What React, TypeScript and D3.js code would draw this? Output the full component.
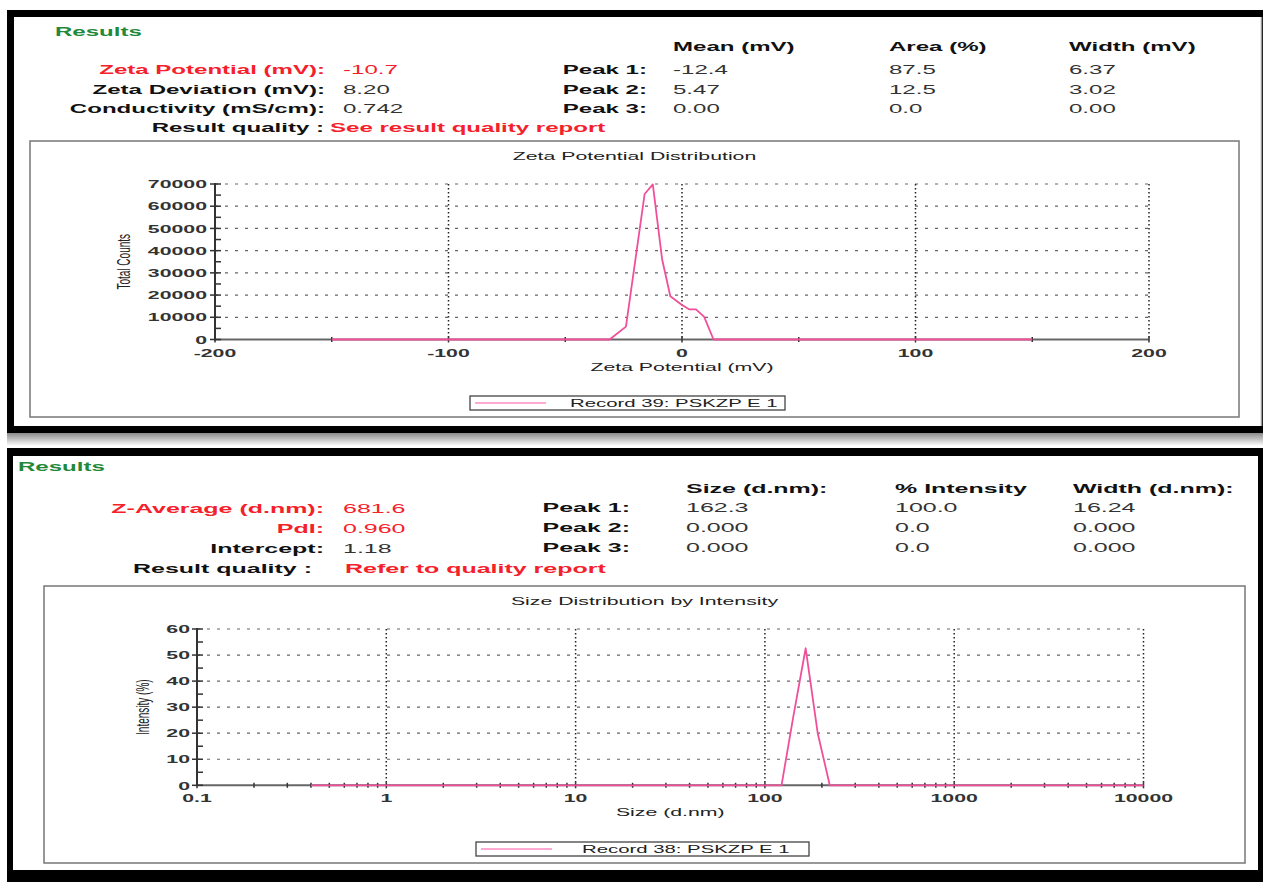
import React from "react";
import * as d3 from "d3";

// ---- zeta potential distribution (Record 39) ----
const zetaX = [-150, -31, -24, -16, -12.5, -8.5, -5, 0, 3, 6, 9.5, 13.5, 150];
const zetaY = [0, 0, 5800, 65500, 69800, 36000, 19500, 15500, 13600, 13600, 10200, 0, 0];
const zetaXTicks = [-200, -100, 0, 100, 200];
const zetaXMinor = [-150, -50, 50, 150];
const zetaYTicks = [0, 10000, 20000, 30000, 40000, 50000, 60000, 70000];

// ---- size distribution by intensity (Record 38) ----
const sizeX = [0.4, 122.4, 141.8, 164.2, 190.1, 220.2, 10000];
const sizeY = [0, 0, 27, 52.6, 20, 0, 0];
const sizeXTicks = [0.1, 1, 10, 100, 1000, 10000];
const sizeYTicks = [0, 10, 20, 30, 40, 50, 60];

// ---- result tables ----
const zetaLeft = [
  { label: "Zeta Potential (mV):", value: "-10.7", red: true },
  { label: "Zeta Deviation (mV):", value: "8.20", red: false },
  { label: "Conductivity (mS/cm):", value: "0.742", red: false },
];
const zetaHeads = ["Mean (mV)", "Area (%)", "Width (mV)"];
const zetaPeaks = [
  ["Peak 1:", "-12.4", "87.5", "6.37"],
  ["Peak 2:", "5.47", "12.5", "3.02"],
  ["Peak 3:", "0.00", "0.0", "0.00"],
];
const sizeLeft = [
  { label: "Z-Average (d.nm):", value: "681.6", red: true },
  { label: "PdI:", value: "0.960", red: true },
  { label: "Intercept:", value: "1.18", red: false },
];
const sizeHeads = ["Size (d.nm):", "% Intensity", "Width (d.nm):"];
const sizePeaks = [
  ["Peak 1:", "162.3", "100.0", "16.24"],
  ["Peak 2:", "0.000", "0.0", "0.000"],
  ["Peak 3:", "0.000", "0.0", "0.000"],
];

const SX = 1.85; // the report image is stretched sideways
const FONT = "Liberation Sans, Arial, sans-serif";
const RED = "#f5212a";
const PINK = "#f0509a";

function T({ x, y, size = 13, bold = false, fill = "#111", anchor = "start", children }: any) {
  return (
    <text
      transform={`translate(${x},${y}) scale(${SX},1)`}
      fontSize={size}
      fontWeight={bold ? "bold" : "normal"}
      fill={fill}
      textAnchor={anchor}
      fontFamily={FONT}
    >
      {children}
    </text>
  );
}

function VT({ x, y, size = 10, children }: any) {
  return (
    <text
      transform={`translate(${x},${y}) scale(${SX},1) rotate(-90)`}
      fontSize={size}
      fill="#222"
      textAnchor="middle"
      dy="0.35em"
      fontFamily={FONT}
    >
      {children}
    </text>
  );
}

function Header({ top, left, heads, peaks, quality, cols, peakEnd, labelEnd, valueX, qEnd, qX, rows, resultsX, fs }: any) {
  const b = fs * 0.36;
  return (
    <g>
      <T x={resultsX} y={top + 4.6} size={13} bold fill="#23893a">Results</T>
      {left.map((r: any, i: number) => (
        <g key={i}>
          <T x={labelEnd} y={rows[i] + b} size={fs} bold fill={r.red ? RED : "#111"} anchor="end">{r.label}</T>
          <T x={valueX} y={rows[i] + b} size={fs} fill={r.red ? RED : "#333"}>{r.value}</T>
        </g>
      ))}
      <T x={qEnd} y={rows[3] + b} size={fs} bold anchor="end">{quality[0]}</T>
      <T x={qX} y={rows[3] + b} size={fs} bold fill={RED}>{quality[1]}</T>
      {heads.map((h: string, i: number) => (
        <T key={i} x={cols[i]} y={rows[4] + b} size={fs} bold>{h}</T>
      ))}
      {peaks.map((p: string[], i: number) => (
        <g key={i}>
          <T x={peakEnd} y={rows[5 + i] + b} size={fs} bold anchor="end">{p[0]}</T>
          {p.slice(1).map((v, j) => (
            <T key={j} x={cols[j]} y={rows[5 + i] + b} size={fs} fill="#333">{v}</T>
          ))}
        </g>
      ))}
    </g>
  );
}

function Plot({ x, y, xs, ys, xTicks, xMinor, yTicks, yMinor, xFmt, yFmt, box, title, xLabel, yLabel, legend, yLabelX, yLabEnd }: any) {
  const [x0, x1] = x.range();
  const [yb, yt] = y.range();
  const line = d3.line<number>().x((d, i) => x(xs[i])).y((d, i) => y(d));
  return (
    <g>
      <rect x={box[0]} y={box[1]} width={box[2] - box[0]} height={box[3] - box[1]} fill="#fff" stroke="#777" strokeWidth={1.5} />
      <T x={(box[0] + box[2]) / 2} y={box[1] + 18.5} size={11.5} anchor="middle" fill="#222">{title}</T>
      {/* grid */}
      {yTicks.slice(1).map((t: number) => (
        <line key={"h" + t} x1={x0} x2={x1} y1={y(t)} y2={y(t)} stroke="#666" strokeWidth={1.2} strokeDasharray="3 7" />
      ))}
      {xTicks.slice(1).map((t: number) => (
        <line key={"v" + t} x1={x(t)} x2={x(t)} y1={yt} y2={yb} stroke="#222" strokeWidth={1.5} strokeDasharray="1.5 2.5" />
      ))}
      {/* axes */}
      <line x1={x0} x2={x1} y1={yb} y2={yb} stroke="#666" strokeWidth={2} />
      <line x1={x0} x2={x0} y1={yt - 1} y2={yb + 1} stroke="#333" strokeWidth={2} />
      {yMinor.map((t: number) => (
        <line key={"ym" + t} x1={x0} x2={x0 + 6} y1={y(t)} y2={y(t)} stroke="#333" strokeWidth={1.5} />
      ))}
      {yTicks.map((t: number) => (
        <g key={"yt" + t}>
          <line x1={x0 - 5} x2={x0 + 6} y1={y(t)} y2={y(t)} stroke="#333" strokeWidth={1.5} />
          <T x={yLabEnd} y={y(t) + 4.2} size={11.5} bold anchor="end" fill="#333">{yFmt(t)}</T>
        </g>
      ))}
      {xMinor.map((t: number, i: number) => (
        <line key={"xm" + i} x1={x(t)} x2={x(t)} y1={yb - 2.5} y2={yb + 2.5} stroke="#333" strokeWidth={1.5} />
      ))}
      {xTicks.map((t: number) => (
        <g key={"xt" + t}>
          <line x1={x(t)} x2={x(t)} y1={yb - 3} y2={yb + 3} stroke="#333" strokeWidth={1.5} />
          <T x={x(t)} y={yb + 17} size={11.5} bold anchor="middle" fill="#333">{xFmt(t)}</T>
        </g>
      ))}
      <T x={(x0 + x1) / 2} y={yb + 31} size={11.5} anchor="middle" fill="#222">{xLabel}</T>
      <VT x={yLabelX} y={(yt + yb) / 2}>{yLabel}</VT>
      {/* data */}
      <path d={line(ys) || ""} fill="none" stroke={PINK} strokeWidth={1.8} strokeLinejoin="round" />
      {/* legend */}
      <rect x={legend[0]} y={legend[1]} width={legend[2] - legend[0]} height={legend[3] - legend[1]} fill="#fff" stroke="#444" strokeWidth={1.3} />
      <line x1={legend[0] + 5} x2={legend[0] + 76} y1={(legend[1] + legend[3]) / 2} y2={(legend[1] + legend[3]) / 2} stroke="#ff8cc4" strokeWidth={1.5} />
      <T x={legend[4]} y={(legend[1] + legend[3]) / 2 + 4} size={11} fill="#222">{legend[5]}</T>
    </g>
  );
}

export default function App() {
  const zx = d3.scaleLinear().domain([-200, 200]).range([215, 1149]);
  const zy = d3.scaleLinear().domain([0, 70000]).range([339.5, 184]);
  const sx = d3.scaleLog().domain([0.1, 10000]).range([197, 1143.5]);
  const sy = d3.scaleLinear().domain([0, 60]).range([785.3, 629]);

  const zyMinor = d3.range(5000, 70000, 10000);
  const syMinor = d3.range(5, 60, 10);
  const sxMinor: number[] = [];
  [0.1, 1, 10, 100, 1000].forEach((dec) => {
    for (let k = 2; k <= 9; k++) sxMinor.push(dec * k);
  });

  return (
    <div style={{ position: "absolute", left: 0, top: 0 }}>
      <svg width={1263} height={882} style={{ display: "block", background: "#fff" }}>
        <defs>
          <linearGradient id="shadow" x1="0" y1="0" x2="0" y2="1">
            <stop offset="0" stopColor="#8a8a8a" />
            <stop offset="1" stopColor="#ffffff" />
          </linearGradient>
        </defs>
        {/* top panel frame */}
        <rect x={7} y={10} width={1256} height={423} fill="#000" />
        <rect x={14} y={17} width={1247} height={409} fill="#fff" />
        <line x1={1261.5} x2={1261.5} y1={17} y2={426} stroke="#999" strokeWidth={1.5} />
        <rect x={7} y={433} width={1256} height={13} fill="url(#shadow)" />
        {/* bottom panel frame */}
        <rect x={7} y={448} width={1256} height={434} fill="#000" />
        <rect x={13} y={456} width={1245} height={414} fill="#fff" />

        <Header
          top={31.7}
          resultsX={55}
          fs={13}
          left={zetaLeft}
          heads={zetaHeads}
          peaks={zetaPeaks}
          quality={["Result quality :", "See result quality report"]}
          cols={[673, 889, 1069]}
          peakEnd={647}
          labelEnd={325}
          valueX={343}
          qEnd={324}
          qX={330}
          rows={[69.5, 89, 108.5, 127, 46.5, 69.5, 89, 108.5]}
        />
        <Plot
          x={zx}
          y={zy}
          xs={zetaX}
          ys={zetaY}
          xTicks={zetaXTicks}
          xMinor={zetaXMinor}
          yTicks={zetaYTicks}
          yMinor={zyMinor}
          xFmt={(t: number) => String(t)}
          yFmt={(t: number) => String(t)}
          box={[30, 141, 1239, 417]}
          title="Zeta Potential Distribution"
          xLabel="Zeta Potential (mV)"
          yLabel="Total Counts"
          yLabelX={124}
          yLabEnd={207}
          legend={[470, 396, 785, 410, 570, "Record 39: PSKZP E 1"]}
        />

        <Header
          top={466}
          resultsX={18}
          fs={13.5}
          left={sizeLeft}
          heads={sizeHeads}
          peaks={sizePeaks}
          quality={["Result quality :", "Refer to quality report"]}
          cols={[686, 895, 1073]}
          peakEnd={630}
          labelEnd={324}
          valueX={343}
          qEnd={312}
          qX={345}
          rows={[508, 528, 548, 568, 488, 507, 527, 547]}
        />
        <Plot
          x={sx}
          y={sy}
          xs={sizeX}
          ys={sizeY}
          xTicks={sizeXTicks}
          xMinor={sxMinor}
          yTicks={sizeYTicks}
          yMinor={syMinor}
          xFmt={(t: number) => String(t)}
          yFmt={(t: number) => String(t)}
          box={[44, 586, 1245, 863]}
          title="Size Distribution by Intensity"
          xLabel="Size (d.nm)"
          yLabel="Intensity (%)"
          yLabelX={143}
          yLabEnd={190}
          legend={[476, 842, 809, 856, 582, "Record 38: PSKZP E 1"]}
        />
      </svg>
    </div>
  );
}
